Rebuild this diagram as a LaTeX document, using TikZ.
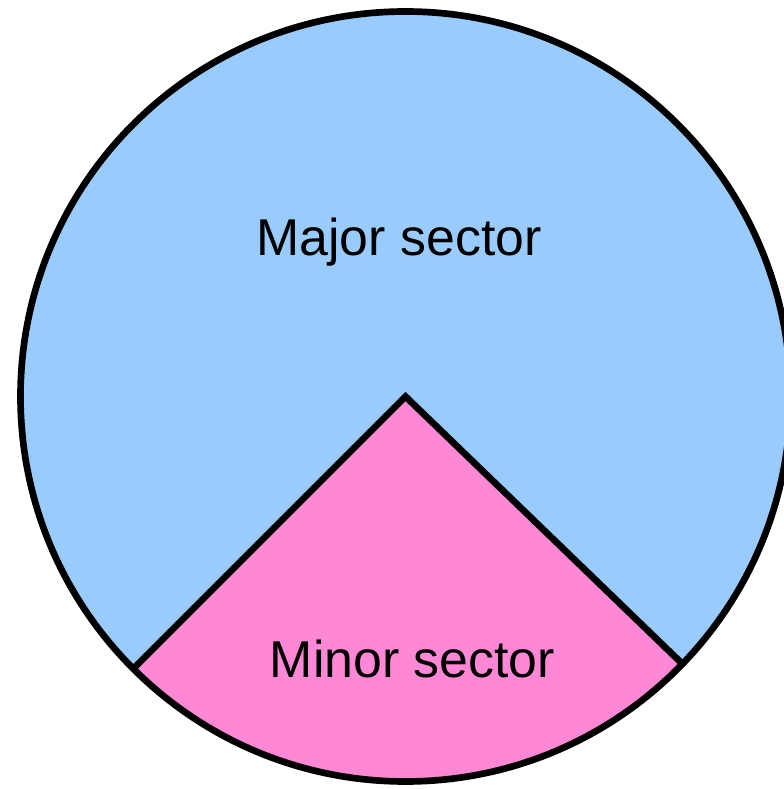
\documentclass[tikz,border=0pt]{standalone}
\usepackage{fontspec}
\setmainfont{Liberation Sans}
\usetikzlibrary{calc}
\definecolor{majorblue}{RGB}{153,204,252}
\definecolor{minorpink}{RGB}{255,136,214}
\tikzset{
  rim/.style={draw=black,line width=3.8pt},
  sectorlabel/.style={anchor=base,inner sep=0pt,font=\fontsize{29.5}{35}\selectfont}
}
\begin{document}
\begin{tikzpicture}[x=0.02cm,y=0.02cm,line join=round,line cap=round]
	\def\r{385}\def\aA{225}\def\aB{316}
	\useasboundingbox (0,0) rectangle (784,789);
	\coordinate (O) at (405.5,392.5);
	\coordinate (A) at ($(O)+(\aA:\r)$);
	\coordinate (B) at ($(O)+(\aB:\r)$);
	% the two sectors
	\fill[majorblue] (O) circle(\r);
	\fill[minorpink] (O) -- (A) arc(\aA:\aB:\r) -- cycle;
	% outline and the two radii
	\draw[rim] (O) circle(\r);
	\draw[rim,line cap=butt,line join=miter] (A) -- (O) -- (B);
	\node[sectorlabel] (major) at (399,533) {Major sector};
	\node[sectorlabel] (minor) at (412.5,112) {Minor sector};
\end{tikzpicture}
\end{document}
